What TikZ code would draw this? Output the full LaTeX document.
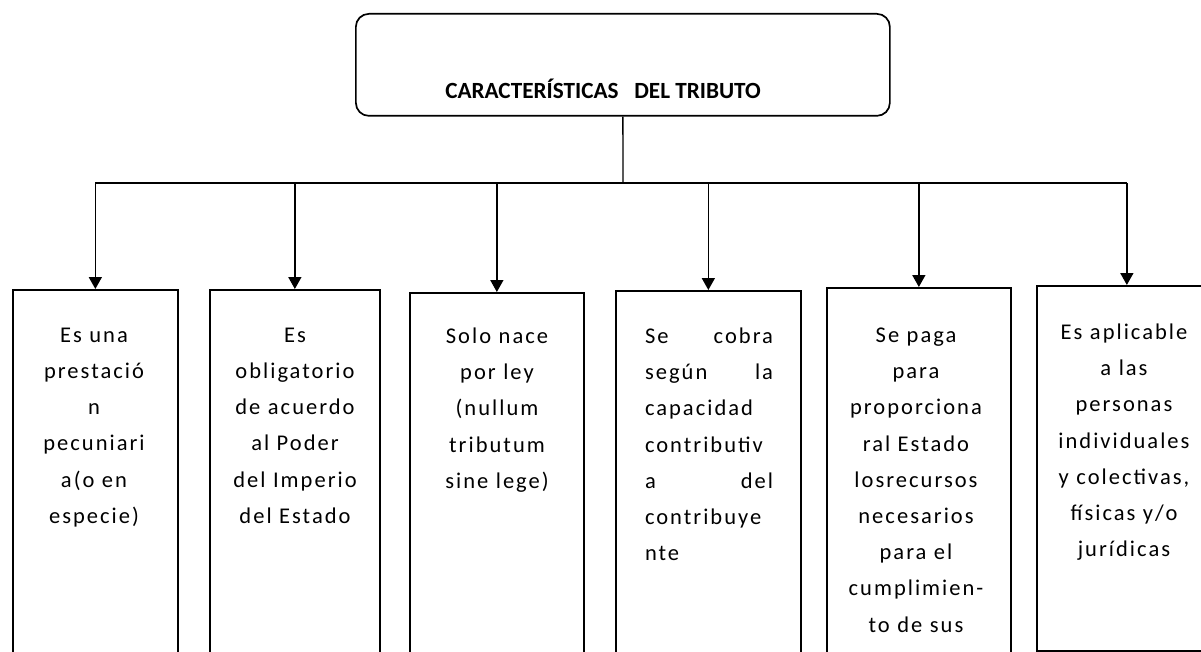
\documentclass[tikz,border=0pt]{standalone}
\usepackage{fontspec}
\setmainfont{Carlito}
\newfontfamily\cajafont[LetterSpace=9]{Carlito}
\usetikzlibrary{arrows.meta,positioning}

\begin{document}
\begin{tikzpicture}[x=1pt,y=-1pt,line width=1.7pt,
  caja/.style={draw,rectangle,anchor=north west,inner sep=0pt},
  texto/.style={anchor=north,align=center,text width=170pt,inner sep=0pt,font=\cajafont\fontsize{22.5}{36.2}\selectfont},
  flecha/.style={-{Triangle[length=12pt,width=13pt]}}]
\useasboundingbox (0,0) rectangle (1201,652);
% title
\node[draw,rounded corners=13pt,minimum width=534pt,minimum height=102pt,anchor=north west] (titulo) at (355,13) {};
\node[font=\bfseries\fontsize{23.2}{25}\selectfont,anchor=base] (titulotexto) at (603,99) {CARACTER\'ISTICAS\ \ \ DEL TRIBUTO};
\coordinate (bus) at (623,183);
% boxes
\node[caja,minimum width=165pt,minimum height=380pt] (b1) at (12,289) {};
\node[caja,minimum width=170pt,minimum height=380pt] (b2) at (209,289) {};
\node[caja,minimum width=174pt,minimum height=380pt] (b3) at (409,292) {};
\node[caja,minimum width=185pt,minimum height=380pt] (b4) at (615,290) {};
\node[caja,minimum width=184pt,minimum height=380pt] (b5) at (826,287) {};
\node[caja,minimum width=180pt,minimum height=365pt] (b6) at (1036,285) {};
% texts
\node[texto] (t1) at (94,327) {Es una\\ prestació\\ n\\ pecuniari\\ a(o en\\ especie)};
\node[texto] (t2) at (295,327) {Es\\ obligatorio\\ de acuerdo\\ al Poder\\ del Imperio\\ del Estado};
\node[texto] (t3) at (497,327) {Solo nace\\ por ley\\ (nullum\\ tributum\\ sine lege)};
\node[texto,align=left,text width=128pt] (t4) at (709,327) {Se\hfill cobra\\ según\hfill la\\ capacidad\\ contributiv\\ a\hfill del\\ contribuye\\ nte};
\node[texto] (t5) at (916,327) {Se paga\\ para\\ proporciona\\ ral Estado\\ losrecursos\\ necesarios\\ para el\\ cumplimien-\\ to de sus};
\node[texto] (t6) at (1124,323) {Es aplicable\\ a las\\ personas\\ individuales\\ y colectivas,\\ físicas y/o\\ jurídicas};
% connectors
\draw[line width=1.3pt] (titulo.south) -- (bus);
\draw (b1.north |- bus) -- (b6.north |- bus);
\foreach \i in {1,...,6}
  \draw[flecha] (b\i.north |- bus) -- (b\i.north);
\end{tikzpicture}
\end{document}
